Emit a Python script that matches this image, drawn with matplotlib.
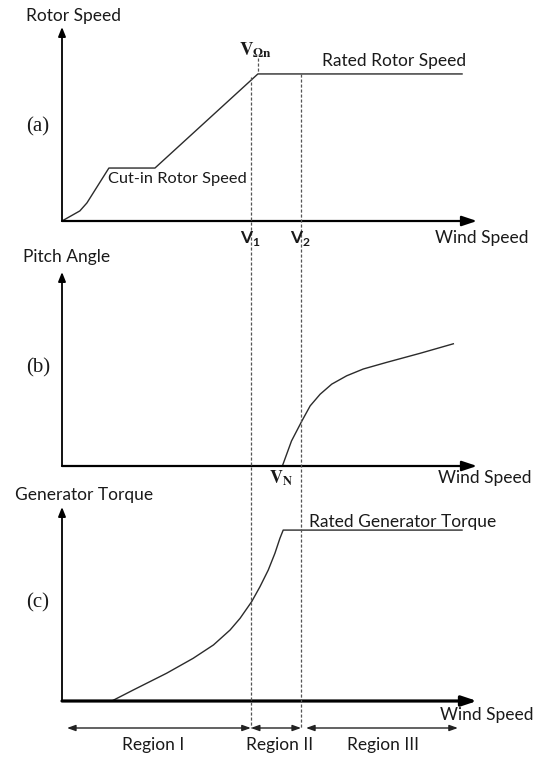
import matplotlib
matplotlib.use("Agg")
import matplotlib.pyplot as plt
from matplotlib.lines import Line2D
import matplotlib.transforms as mtransforms

plt.rcParams["mathtext.rm"] = "Lato"
plt.rcParams["mathtext.bf"] = "Lato:bold"

# ---------------- data (wind speed axis 0..100, each response axis 0..100) ----------------
rotor_x = [0, 4.3, 6.0, 11.3, 22.4, 47.2, 96.4]
rotor_y = [0, 5.2, 9.3, 27.3, 27.3, 75.8, 75.8]

pitch_x = [53.1, 55.3, 57.8, 59.8, 62.2, 65.0, 68.6, 72.6, 78.2, 86.3, 94.3]
pitch_y = [0, 12.9, 23.2, 31.0, 37.0, 42.2, 46.5, 50.0, 53.4, 58.1, 63.0]

torque_x = [12.0, 17.2, 25.2, 31.6, 36.5, 40.5, 42.9, 45.7, 47.7, 49.7, 51.3, 52.5, 53.3, 96.4]
torque_y = [0, 5.7, 14.3, 22.0, 28.9, 36.6, 42.6, 51.2, 58.9, 67.5, 76.1, 83.8, 88.1, 88.1]

v1 = 45.5
v2 = 57.6
v_omega_n = 47.2
x_max = 100

region_labels = ["Region I", "Region II", "Region III"]
region_bounds = [(1.2, v1), (v1, v2), (v2 + 1.2, 95.4)]

W, H = 541, 757
fig = plt.figure(figsize=(W / 100, H / 100), dpi=100)
fig.patch.set_facecolor("white")

def fx(px):
    return px / W

def fy(py):
    return 1 - py / H

SANS = ["Lato", "DejaVu Sans"]
SERIF = ["Liberation Serif", "DejaVu Serif"]
FS = 12.5
CURVE = "#2b2b2b"

left_px, right_px = 62, 477
panels = []
for origin in (221, 466, 701):
    ax = fig.add_axes([fx(left_px), fy(origin), (right_px - left_px) / W, 194 / H])
    ax.set_xlim(0, x_max)
    ax.set_ylim(0, 100)
    ax.axis("off")
    panels.append(ax)

ax_a, ax_b, ax_c = panels

def draw_axes(ax, xlw):
    ax.annotate("", xy=(x_max, 0), xytext=(0, 0), xycoords="data",
                arrowprops=dict(arrowstyle="-|>,head_length=0.9,head_width=0.3",
                                lw=xlw, color="black", shrinkA=0, shrinkB=0),
                annotation_clip=False)
    ax.annotate("", xy=(0, 100), xytext=(0, 0), xycoords="data",
                arrowprops=dict(arrowstyle="-|>,head_length=0.55,head_width=0.22",
                                lw=1.3, color="black", shrinkA=0, shrinkB=0),
                annotation_clip=False)

draw_axes(ax_a, 1.6)
draw_axes(ax_b, 1.6)
draw_axes(ax_c, 2.3)

ax_a.plot(rotor_x, rotor_y, color=CURVE, lw=1.0, clip_on=False)
ax_b.plot(pitch_x, pitch_y, color=CURVE, lw=1.0, clip_on=False)
ax_c.plot(torque_x, torque_y, color=CURVE, lw=1.0, clip_on=False)

# dashed vertical guide lines spanning panels
trans = mtransforms.blended_transform_factory(ax_c.transData, fig.transFigure)
dash = dict(color="#555555", lw=0.9, linestyle=(0, (2.5, 1.5)))
fig.add_artist(Line2D([v1, v1], [fy(77), fy(728)], transform=trans, **dash))
fig.add_artist(Line2D([v2, v2], [fy(74), fy(728)], transform=trans, **dash))
fig.add_artist(Line2D([v_omega_n, v_omega_n], [fy(58), fy(72)], transform=trans, **dash))

# region arrows
for (a, b) in region_bounds:
    ax_c.annotate("", xy=(b, fy(728)), xytext=(a, fy(728)),
                  xycoords=trans, textcoords=trans,
                  arrowprops=dict(arrowstyle="<|-|>,head_length=0.5,head_width=0.18",
                                  lw=1.0, color="#222222", shrinkA=0, shrinkB=0),
                  annotation_clip=False)

# ---------------- text ----------------
def t(px, py, s, ha="left", va="center", **kw):
    kw.setdefault("family", SANS)
    kw.setdefault("fontsize", FS)
    fig.text(fx(px), fy(py), s, ha=ha, va=va, color="#1a1a1a", **kw)

t(26, 16, "Rotor Speed")
t(23, 257, "Pitch Angle")
t(15, 495, "Generator Torque")
t(26, 127, "(a)", family=SERIF, fontsize=15)
t(26, 368, "(b)", family=SERIF, fontsize=15)
t(26, 603, "(c)", family=SERIF, fontsize=15)
t(322, 61, "Rated Rotor Speed")
t(108, 179, "Cut-in Rotor Speed", fontsize=11.8)
t(309, 522, "Rated Generator Torque")
t(435, 238, "Wind Speed")
t(438, 478, "Wind Speed")
t(440, 715, "Wind Speed")

t(153, 745, region_labels[0], ha="center")
t(280, 745, region_labels[1], ha="center")
t(383, 745, region_labels[2], ha="center")

# V labels
t(250, 239, r"$\mathbf{V}_{\mathbf{1}}$", ha="center", fontsize=12.5, math_fontfamily="custom")
t(300, 239, r"$\mathbf{V}_{\mathbf{2}}$", ha="center", fontsize=12.5, math_fontfamily="custom")
t(256, 50, r"$\mathbf{V}_{\mathbf{\Omega n}}$", ha="center", fontsize=13.5, math_fontfamily="stix")
t(281, 478, r"$\mathbf{V}_{\mathbf{N}}$", ha="center", fontsize=13, math_fontfamily="stix")

fig.savefig("out.png", dpi=100, facecolor="white")
